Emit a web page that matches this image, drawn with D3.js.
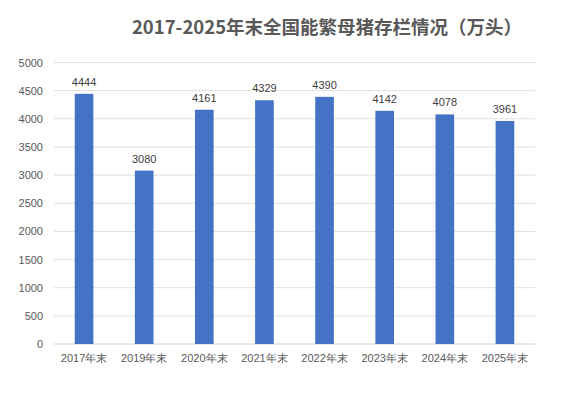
<!DOCTYPE html>
<html><head><meta charset="utf-8">
<script src="https://cdn.jsdelivr.net/npm/d3@7/dist/d3.min.js"></script>
<style>body{margin:0;background:#fff;}svg{display:block;font-family:"Noto Sans CJK SC","Liberation Sans",sans-serif;}</style>
</head><body>
<script>
const categories = ["2017年末","2019年末","2020年末","2021年末","2022年末","2023年末","2024年末","2025年末"];
const values = [4444,3080,4161,4329,4390,4142,4078,3961];
const yTicks = [0,500,1000,1500,2000,2500,3000,3500,4000,4500,5000];
const title = "2017-2025年末全国能繁母猪存栏情况（万头）";

const W=574,H=393;
const svg=d3.select("body").append("svg").attr("width",W).attr("height",H);
const x=d3.scaleBand().domain(categories).range([54,535]).paddingInner(0.69).paddingOuter(0.345);
const y=d3.scaleLinear().domain([0,5000]).range([344,62.5]);

svg.append("text").attr("x",327).attr("y",34).attr("text-anchor","middle")
  .attr("font-size",18.5).attr("font-weight","bold").attr("fill","#595959").text(title);

const g=svg.append("g");
g.selectAll("line.grid").data(yTicks).join("line").attr("class","grid")
  .attr("x1",54).attr("x2",535).attr("y1",d=>y(d)).attr("y2",d=>y(d))
  .attr("stroke",d=>d===0?"#d0d0d0":"#e0e0e0").attr("stroke-width",1);

const yAxis=d3.axisLeft(y).tickValues(yTicks).tickFormat(d3.format("d")).tickSize(0).tickPadding(10);
svg.append("g").attr("transform","translate(54,0)").call(yAxis)
  .call(a=>a.select(".domain").remove())
  .call(a=>a.selectAll("text").attr("font-size",11).attr("fill","#595959").attr("font-family","Liberation Sans, sans-serif").attr("dx",-1));

const xAxis=d3.axisBottom(x).tickSize(0).tickPadding(10);
svg.append("g").attr("transform","translate(0,344)").call(xAxis)
  .call(a=>a.select(".domain").remove())
  .call(a=>a.selectAll("text").attr("font-size",11).attr("fill","#595959"));

svg.selectAll("rect.bar").data(values).join("rect").attr("class","bar")
  .attr("x",(d,i)=>x(categories[i])).attr("width",x.bandwidth())
  .attr("y",d=>y(d)).attr("height",d=>y(0)-y(d)).attr("fill","#4472C4");

svg.selectAll("text.val").data(values).join("text").attr("class","val")
  .attr("x",(d,i)=>x(categories[i])+x.bandwidth()/2).attr("y",d=>y(d)-8)
  .attr("text-anchor","middle").attr("font-size",11).attr("fill","#404040")
  .attr("font-family","Liberation Sans, sans-serif").text(d=>d);
</script>
</body></html>
